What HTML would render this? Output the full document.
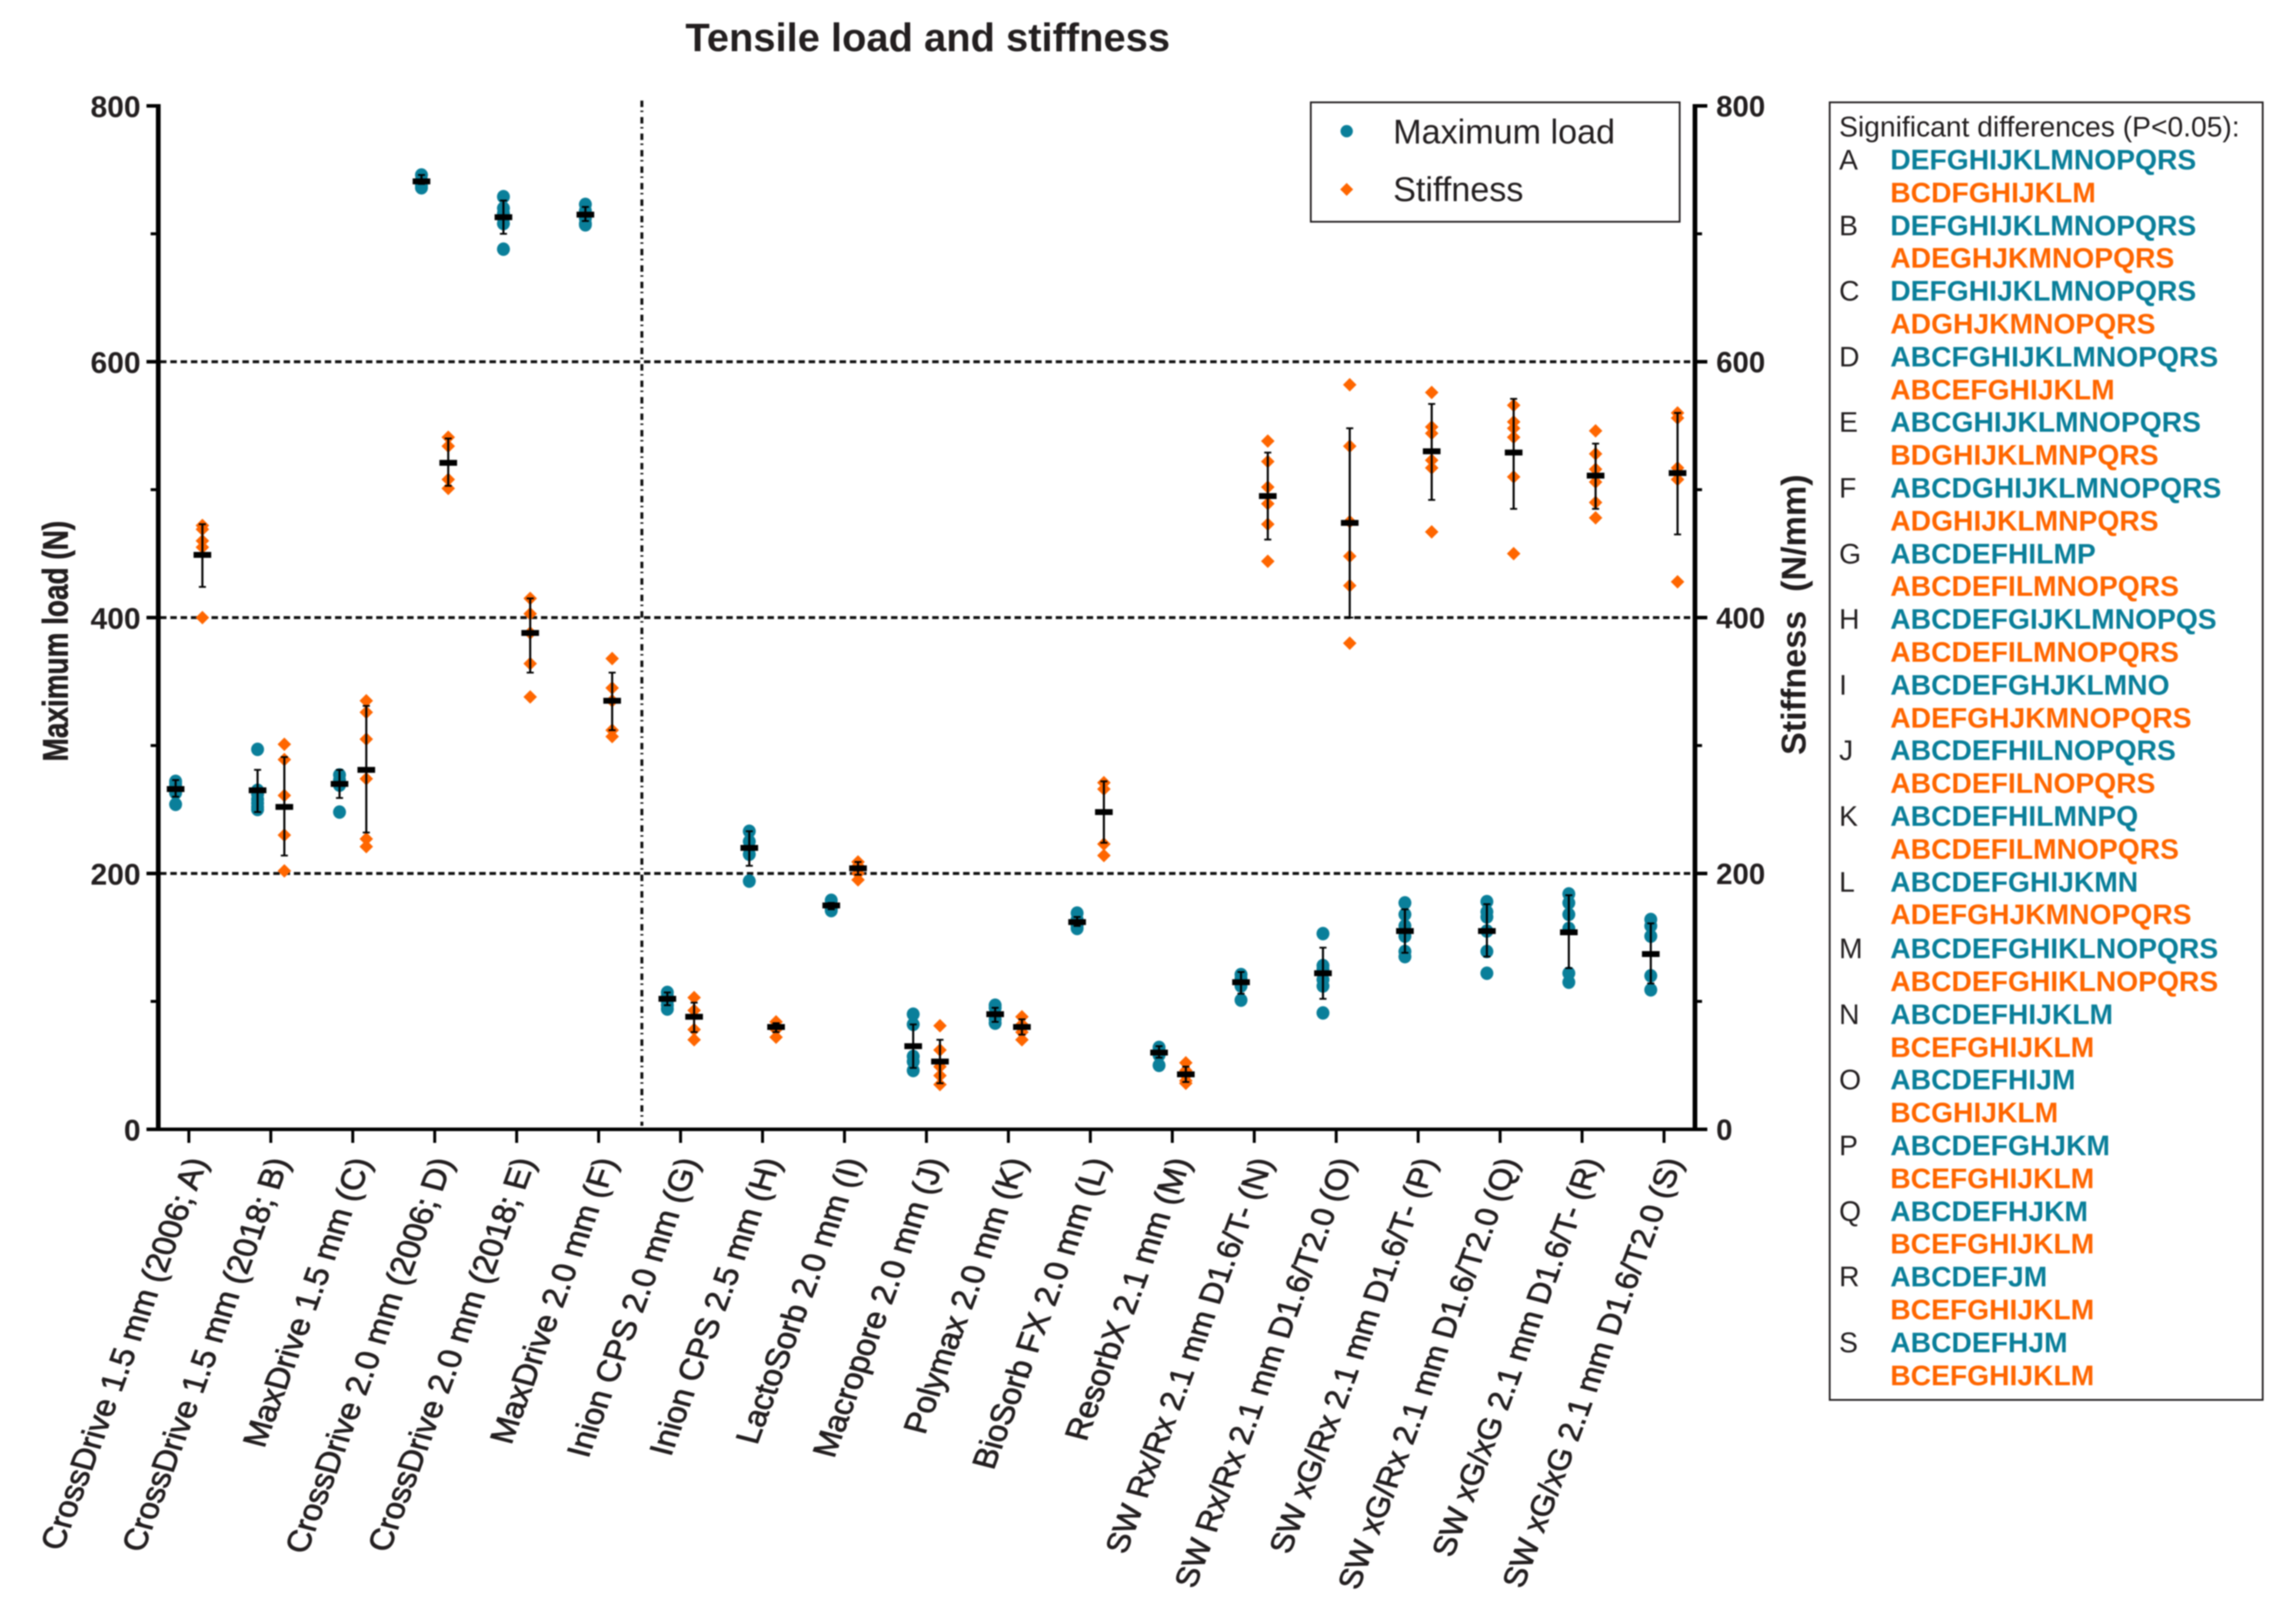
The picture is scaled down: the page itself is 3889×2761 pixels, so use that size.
<!DOCTYPE html>
<html lang="en">
<head>
<meta charset="utf-8">
<title>Tensile load and stiffness</title>
<style>
html,body{margin:0;padding:0;background:#fff;}
svg{display:block;font-family:"Liberation Sans",Arial,sans-serif;filter:blur(1.1px);}
text{fill:#231f20;}
.teal{font-weight:700;font-size:48px;fill:#0a7f9a;}
.orange{font-weight:700;font-size:48px;fill:#ff6600;}
.letter{font-size:48px;}
</style>
</head>
<body>
<svg id="chart" xmlns="http://www.w3.org/2000/svg" width="3889" height="2761" viewBox="0 0 3889 2761">
<rect width="3889" height="2761" fill="#fff"/>
<text x="1165" y="87" font-size="67.8" font-weight="700">Tensile load and stiffness</text>
<text transform="translate(115,1090) rotate(-90) scale(1,1.27)" text-anchor="middle" font-size="47.5" font-weight="700" stroke="#231f20" stroke-width="0.8">Maximum load (N)</text>
<text transform="translate(3069,1045) rotate(-90)" text-anchor="middle" font-size="58" font-weight="700" xml:space="preserve">Stiffness  (N/mm)</text>

<g id="grid"></g>
<line x1="1091" y1="171" x2="1091" y2="1914" stroke="#111" stroke-width="5" stroke-dasharray="11 6 2.5 8.5"/>
<g id="axes"></g>
<g id="marks"></g>

<g>
<rect x="2228" y="174" width="627" height="203" fill="#fff" stroke="#231f20" stroke-width="3"/>
<circle cx="2289" cy="223" r="10.5" fill="#0a7f9a"/>
<text x="2368" y="244" font-size="58">Maximum load</text>
<polygon points="2289,311 2300,322 2289,333 2278,322" fill="#ff6600"/>
<text x="2368" y="342" font-size="58">Stiffness</text>
</g>

<g>
<rect x="3110" y="174" width="736" height="2206" fill="#fff" stroke="#231f20" stroke-width="3"/>
<text x="3126" y="232" font-size="48">Significant differences (P&lt;0.05):</text>
<text class="letter" x="3126" y="288">A</text>
<text class="teal" x="3213" y="288">DEFGHIJKLMNOPQRS</text>
<text class="orange" x="3213" y="344">BCDFGHIJKLM</text>
<text class="letter" x="3126" y="400">B</text>
<text class="teal" x="3213" y="400">DEFGHIJKLMNOPQRS</text>
<text class="orange" x="3213" y="455">ADEGHJKMNOPQRS</text>
<text class="letter" x="3126" y="511">C</text>
<text class="teal" x="3213" y="511">DEFGHIJKLMNOPQRS</text>
<text class="orange" x="3213" y="567">ADGHJKMNOPQRS</text>
<text class="letter" x="3126" y="623">D</text>
<text class="teal" x="3213" y="623">ABCFGHIJKLMNOPQRS</text>
<text class="orange" x="3213" y="679">ABCEFGHIJKLM</text>
<text class="letter" x="3126" y="734">E</text>
<text class="teal" x="3213" y="734">ABCGHIJKLMNOPQRS</text>
<text class="orange" x="3213" y="790">BDGHIJKLMNPQRS</text>
<text class="letter" x="3126" y="846">F</text>
<text class="teal" x="3213" y="846">ABCDGHIJKLMNOPQRS</text>
<text class="orange" x="3213" y="902">ADGHIJKLMNPQRS</text>
<text class="letter" x="3126" y="958">G</text>
<text class="teal" x="3213" y="958">ABCDEFHILMP</text>
<text class="orange" x="3213" y="1013">ABCDEFILMNOPQRS</text>
<text class="letter" x="3126" y="1069">H</text>
<text class="teal" x="3213" y="1069">ABCDEFGIJKLMNOPQS</text>
<text class="orange" x="3213" y="1125">ABCDEFILMNOPQRS</text>
<text class="letter" x="3126" y="1181">I</text>
<text class="teal" x="3213" y="1181">ABCDEFGHJKLMNO</text>
<text class="orange" x="3213" y="1237">ADEFGHJKMNOPQRS</text>
<text class="letter" x="3126" y="1292">J</text>
<text class="teal" x="3213" y="1292">ABCDEFHILNOPQRS</text>
<text class="orange" x="3213" y="1348">ABCDEFILNOPQRS</text>
<text class="letter" x="3126" y="1404">K</text>
<text class="teal" x="3213" y="1404">ABCDEFHILMNPQ</text>
<text class="orange" x="3213" y="1460">ABCDEFILMNOPQRS</text>
<text class="letter" x="3126" y="1516">L</text>
<text class="teal" x="3213" y="1516">ABCDEFGHIJKMN</text>
<text class="orange" x="3213" y="1571">ADEFGHJKMNOPQRS</text>
<g transform="translate(0,2)">
<text class="letter" x="3126" y="1627">M</text>
<text class="teal" x="3213" y="1627">ABCDEFGHIKLNOPQRS</text>
<text class="orange" x="3213" y="1683">ABCDEFGHIKLNOPQRS</text>
<text class="letter" x="3126" y="1739">N</text>
<text class="teal" x="3213" y="1739">ABCDEFHIJKLM</text>
<text class="orange" x="3213" y="1795">BCEFGHIJKLM</text>
<text class="letter" x="3126" y="1850">O</text>
<text class="teal" x="3213" y="1850">ABCDEFHIJM</text>
<text class="orange" x="3213" y="1906">BCGHIJKLM</text>
<text class="letter" x="3126" y="1962">P</text>
<text class="teal" x="3213" y="1962">ABCDEFGHJKM</text>
<text class="orange" x="3213" y="2018">BCEFGHIJKLM</text>
<text class="letter" x="3126" y="2074">Q</text>
<text class="teal" x="3213" y="2074">ABCDEFHJKM</text>
<text class="orange" x="3213" y="2129">BCEFGHIJKLM</text>
<text class="letter" x="3126" y="2185">R</text>
<text class="teal" x="3213" y="2185">ABCDEFJM</text>
<text class="orange" x="3213" y="2241">BCEFGHIJKLM</text>
<text class="letter" x="3126" y="2297">S</text>
<text class="teal" x="3213" y="2297">ABCDEFHJM</text>
<text class="orange" x="3213" y="2353">BCEFGHIJKLM</text>
</g>
</g>
</svg>

<script>
const categories = ["CrossDrive 1.5 mm (2006; A)","CrossDrive 1.5 mm (2018; B)","MaxDrive 1.5 mm (C)","CrossDrive 2.0 mm (2006; D)","CrossDrive 2.0 mm (2018; E)","MaxDrive 2.0 mm (F)","Inion CPS 2.0 mm (G)","Inion CPS 2.5 mm (H)","LactoSorb 2.0 mm (I)","Macropore 2.0 mm (J)","Polymax 2.0 mm (K)","BioSorb FX 2.0 mm (L)","ResorbX 2.1 mm (M)","SW Rx/Rx 2.1 mm D1.6/T- (N)","SW Rx/Rx 2.1 mm D1.6/T2.0 (O)","SW xG/Rx 2.1 mm D1.6/T- (P)","SW xG/Rx 2.1 mm D1.6/T2.0 (Q)","SW xG/xG 2.1 mm D1.6/T- (R)","SW xG/xG 2.1 mm D1.6/T2.0 (S)"];
const majorTicks = [0,200,400,600,800];
const minorTicks = [100,300,500,700];
const gridValues = [200,400,600];

const loadPoints = [
[272,270,268,265,263,254],
[297,265,262,258,255,252,250],
[277,273,269,248],
[746,742,738,736],
[729,720,716,712,708,688],
[723,718,712,708,707],
[107,104,100,97,94],
[233,225,220,215,194],
[179,176,174,172,171],
[90,82,57,53,46],
[97,95,90,86,83],
[169,164,161,159,157],
[64,62,60,58,50],
[121,118,115,112,101],
[153,128,125,122,117,112,91],
[177,168,159,151,139,135],
[178,170,166,155,139,122],
[184,177,168,157,122,115],
[164,159,151,120,109]
];
const loadMeans = [266,265,270,741,713,715,102,220,175,65,90,162,60,115,122,155,155,154,137];
const loadErrTop = [273,281,281,746,726,721,107,233,177,82,95,166,65,123,142,172,176,183,161];
const loadErrBottom = [260,248,259,739,700,710,97,206,172,48,84,159,56,106,102,138,135,126,114];

const stiffnessPoints = [
[472,469,460,455,400],
[301,289,261,230,202],
[335,326,305,274,227,221],
[541,534,508,501],
[415,403,388,364,338],
[368,345,335,312,307],
[103,93,78,70],
[84,81,79,78,72],
[209,206,203,200,195],
[81,62,49,42,35],
[88,82,80,76,70],
[271,266,223,214],
[52,46,42,38,36],
[538,522,502,489,473,444],
[582,534,475,448,425,380],
[576,549,544,523,517,467],
[566,553,548,541,510,450],
[546,528,516,506,490,478],
[560,556,517,513,508,428]
];
const stiffnessMeans = [449,252,281,521,388,335,88,80,204,53,80,248,43,495,474,530,529,511,513];
const stiffnessErrTop = [473,291,331,540,415,357,99,83,209,70,86,272,49,529,548,567,571,536,560];
const stiffnessErrBottom = [424,214,232,503,357,312,76,76,199,36,74,224,37,461,400,492,485,485,465];

const NS = 'http://www.w3.org/2000/svg';
const gridGroup = document.getElementById('grid');
const axesGroup = document.getElementById('axes');
const marksGroup = document.getElementById('marks');

function yScale(v){ return 1920 - v * 2.175; }
function xScale(i){ return 321 + i * 139.3; }
function xLoad(i){ return xScale(i) - 22.5; }
function xStiffness(i){ return xScale(i) + 23; }

function shape(tag, parent){
  const el = document.createElementNS(NS, tag);
  parent.appendChild(el);
  return el;
}
function setLine(el, x1, y1, x2, y2, color, width){
  el.setAttribute('x1', x1);
  el.setAttribute('y1', y1);
  el.setAttribute('x2', x2);
  el.setAttribute('y2', y2);
  el.setAttribute('stroke', color);
  el.setAttribute('stroke-width', width);
}

gridValues.forEach(function(v){
  const g = shape('line', gridGroup);
  setLine(g, 272, yScale(v), 2878, yScale(v), '#111', 5);
  g.setAttribute('stroke-dasharray', '11 6.5');
  
  
});

const leftAxis = shape('line', axesGroup);
setLine(leftAxis, 269, yScale(800) - 3, 269, yScale(0) + 3, '#000', 8);



const rightAxis = shape('line', axesGroup);
setLine(rightAxis, 2881, yScale(800) - 3, 2881, yScale(0) + 3, '#000', 8);



const xAxis = shape('line', axesGroup);
setLine(xAxis, 266, yScale(0), 2885, yScale(0), '#000', 6);



majorTicks.forEach(function(v){
  const lt = shape('line', axesGroup);
  setLine(lt, 249, yScale(v), 270, yScale(v), '#000', 6);
  
  

  const rt = shape('line', axesGroup);
  setLine(rt, 2880, yScale(v), 2902, yScale(v), '#000', 6);
  
  

  const ll = shape('text', axesGroup);
  ll.setAttribute('x', 239);
  ll.setAttribute('y', yScale(v) + 19);
  ll.setAttribute('text-anchor', 'end');
  ll.setAttribute('font-size', '51');
  ll.setAttribute('font-weight', '700');
  ll.textContent = v;
  
  

  const rl = shape('text', axesGroup);
  rl.setAttribute('x', 2917);
  rl.setAttribute('y', yScale(v) + 18);
  rl.setAttribute('font-size', '50');
  rl.setAttribute('font-weight', '700');
  rl.textContent = v;
  
  
});

minorTicks.forEach(function(v){
  const lt = shape('line', axesGroup);
  setLine(lt, 256, yScale(v), 270, yScale(v), '#000', 5);
  
  

  const rt = shape('line', axesGroup);
  setLine(rt, 2880, yScale(v), 2893, yScale(v), '#000', 5);
  
  
});

categories.forEach(function(name, i){
  const t = shape('line', axesGroup);
  setLine(t, xScale(i), yScale(0), xScale(i), yScale(0) + 23, '#000', 5);
  
  

  const lab = shape('text', axesGroup);
  lab.setAttribute('transform', 'translate(' + (xScale(i) + 32) + ',1974) rotate(-69.5) skewX(6)');
  lab.setAttribute('text-anchor', 'end');
  lab.setAttribute('font-size', name.indexOf('SW') === 0 ? '53.2' : '55');
  lab.setAttribute('stroke', '#231f20');
  lab.setAttribute('stroke-width', '1.3');
  lab.textContent = name;
  
  
});

function drawSummary(x, mean, top, bottom){
  const stem = shape('line', marksGroup);
  setLine(stem, x, yScale(top), x, yScale(bottom), '#000', 3.5);
  
  

  const capTop = shape('line', marksGroup);
  setLine(capTop, x - 6, yScale(top), x + 6, yScale(top), '#000', 3);
  
  

  const capBottom = shape('line', marksGroup);
  setLine(capBottom, x - 6, yScale(bottom), x + 6, yScale(bottom), '#000', 3);
  
  

  const bar = shape('line', marksGroup);
  setLine(bar, x - 15, yScale(mean), x + 15, yScale(mean), '#000', 10);
  
  
}

categories.forEach(function(name, i){
  loadPoints[i].forEach(function(v){
    const c = shape('ellipse', marksGroup);
    c.setAttribute('cx', xLoad(i));
    c.setAttribute('cy', yScale(v));
    c.setAttribute('rx', 11);
    c.setAttribute('ry', 11.5);
    c.setAttribute('fill', '#0a7f9a');
    
    
  });
  drawSummary(xLoad(i), loadMeans[i], loadErrTop[i], loadErrBottom[i]);

  stiffnessPoints[i].forEach(function(v){
    const d = shape('polygon', marksGroup);
    const px = xStiffness(i), py = yScale(v);
    d.setAttribute('points', px + ',' + (py - 11.5) + ' ' + (px + 11.5) + ',' + py + ' ' + px + ',' + (py + 11.5) + ' ' + (px - 11.5) + ',' + py);
    d.setAttribute('fill', '#ff6600');
    
    
  });
  drawSummary(xStiffness(i), stiffnessMeans[i], stiffnessErrTop[i], stiffnessErrBottom[i]);
});
</script>
</body>
</html>
